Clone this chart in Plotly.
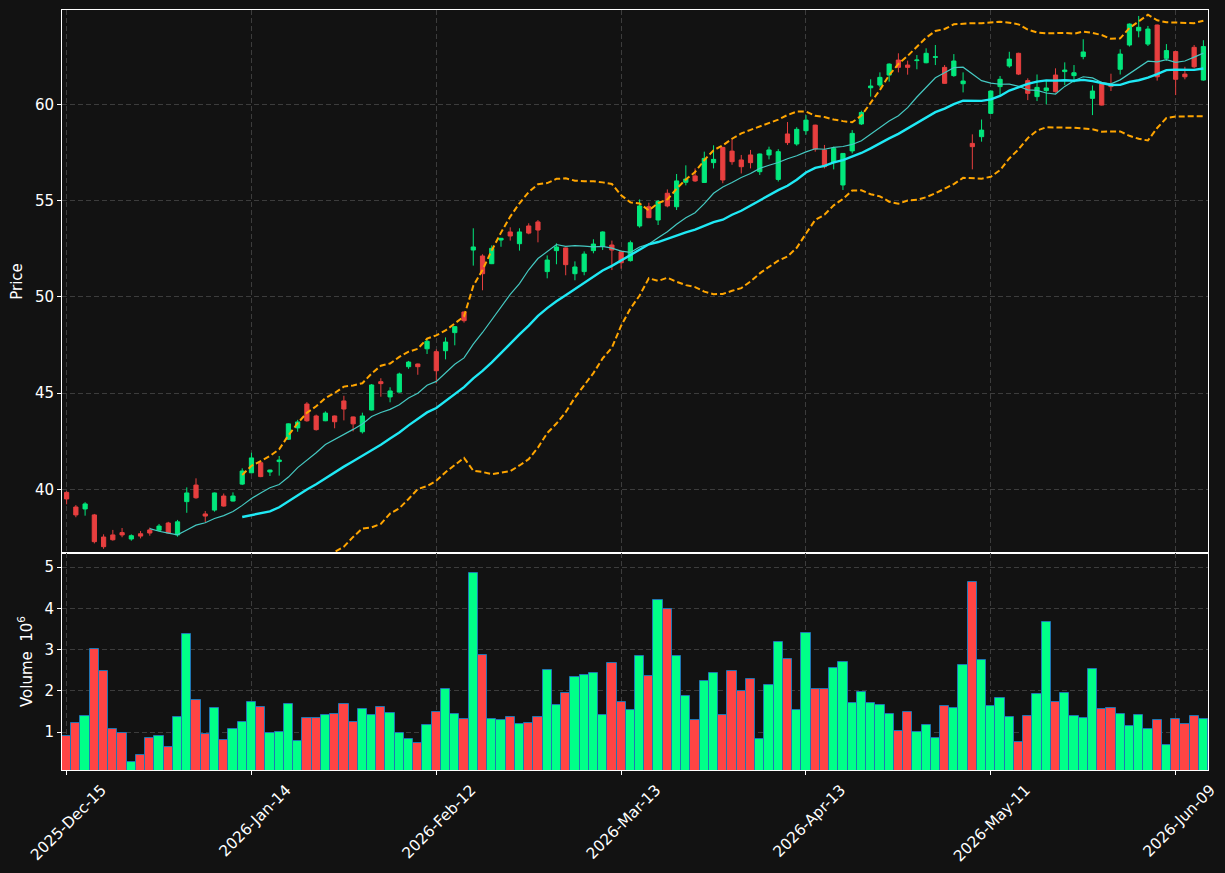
import plotly.graph_objects as go
import pandas as pd
from plotly.subplots import make_subplots

# ---- data (prices in $, volume in millions) ----
opens = [39.84, 39.08, 38.98, 38.67, 37.52, 37.63, 37.75, 37.42, 37.69, 37.89,
         37.87, 38.25, 37.63, 39.36, 40.22, 38.72, 38.92, 39.65, 39.39, 40.27,
         40.86, 41.38, 40.90, 41.44, 42.60, 43.19, 44.43, 43.81, 43.56, 43.81,
         44.59, 43.76, 42.99, 44.12, 45.59, 44.80, 45.05, 46.37, 46.51, 47.30,
         47.15, 47.20, 48.14, 49.21, 52.43, 52.12, 51.72, 52.95, 53.37, 52.76,
         53.68, 53.89, 51.31, 52.40, 52.54, 51.20, 51.31, 52.40, 52.64, 52.69,
         52.34, 51.88, 53.68, 54.68, 53.99, 55.38, 54.68, 55.95, 56.28, 55.94,
         56.97, 57.76, 57.57, 57.11, 57.37, 56.50, 57.37, 56.10, 58.46, 57.94,
         58.63, 58.92, 57.63, 56.97, 55.81, 57.58, 58.98, 60.86, 61.00, 61.52,
         62.30, 62.04, 62.27, 62.16, 62.44, 61.92, 61.49, 61.07, 57.97, 58.32,
         59.53, 60.92, 61.99, 62.65, 61.23, 60.40, 60.71, 61.52, 61.70, 61.49,
         62.48, 60.31, 61.05, 61.05, 61.82, 63.08, 63.82, 63.13, 64.12, 62.39,
         62.74, 61.57, 62.96, 61.26]
highs = [39.90, 39.18, 39.33, 38.72, 37.66, 37.89, 37.99, 37.66, 37.83, 38.01,
         38.20, 38.31, 38.41, 40.10, 40.57, 38.87, 39.83, 39.78, 39.84, 41.09,
         41.90, 41.42, 41.02, 41.73, 43.42, 43.61, 44.53, 43.88, 44.05, 43.83,
         44.86, 43.78, 43.98, 45.47, 45.77, 45.30, 46.06, 46.67, 46.53, 47.86,
         47.27, 47.89, 48.47, 49.23, 53.56, 52.21, 52.67, 53.06, 53.61, 53.56,
         53.82, 53.99, 52.15, 52.78, 52.56, 51.84, 52.36, 52.99, 53.40, 52.92,
         52.36, 52.92, 55.06, 54.89, 55.03, 55.58, 56.38, 56.83, 56.67, 57.54,
         57.87, 57.80, 58.18, 57.37, 57.63, 57.44, 57.80, 57.67, 59.08, 58.81,
         59.44, 58.94, 57.89, 57.80, 57.47, 58.66, 59.67, 61.30, 61.66, 62.13,
         62.65, 62.27, 62.56, 62.91, 63.08, 62.04, 62.61, 61.66, 58.44, 59.21,
         60.71, 61.47, 62.73, 62.68, 61.35, 61.55, 61.23, 61.87, 62.18, 62.04,
         63.38, 60.98, 61.17, 61.59, 62.86, 64.20, 64.59, 64.07, 64.14, 63.13,
         62.76, 61.95, 63.08, 63.33]
lows = [39.22, 38.55, 38.63, 37.19, 36.91, 37.33, 37.51, 37.33, 37.45, 37.59,
        37.83, 37.69, 37.54, 38.78, 39.51, 38.30, 38.84, 39.10, 39.37, 40.22,
        40.83, 40.63, 40.69, 40.71, 42.56, 42.99, 43.51, 43.05, 43.54, 43.17,
        43.58, 43.01, 42.90, 44.10, 44.81, 44.52, 45.02, 46.26, 45.95, 47.03,
        45.50, 46.75, 47.48, 48.66, 51.62, 50.34, 51.70, 52.60, 52.92, 52.40,
        53.25, 52.83, 50.96, 51.69, 51.12, 50.86, 51.12, 52.26, 52.43, 51.39,
        51.46, 51.83, 53.59, 54.09, 53.73, 54.65, 54.51, 55.79, 55.97, 55.92,
        56.67, 55.90, 56.86, 56.41, 56.67, 56.33, 57.14, 55.99, 57.89, 57.85,
        58.42, 57.54, 56.67, 56.62, 55.55, 57.45, 58.93, 60.40, 60.88, 61.18,
        61.66, 61.54, 61.82, 62.13, 62.04, 61.07, 61.43, 60.62, 56.62, 58.06,
        59.50, 60.49, 61.90, 61.52, 60.22, 60.17, 60.00, 60.61, 61.00, 61.13,
        62.34, 59.44, 59.94, 60.69, 61.55, 63.00, 63.48, 63.03, 61.23, 62.27,
        60.48, 61.30, 61.87, 61.23]
closes = [39.50, 38.67, 39.24, 37.28, 37.02, 37.38, 37.63, 37.59, 37.57, 37.73,
          38.09, 37.73, 38.31, 39.81, 39.56, 38.61, 39.81, 39.13, 39.65, 40.95,
          41.63, 40.66, 41.00, 41.52, 43.40, 43.50, 43.56, 43.10, 43.96, 43.51,
          44.17, 43.40, 43.81, 45.42, 45.49, 45.11, 45.99, 46.61, 46.37, 47.69,
          46.16, 47.65, 48.45, 48.76, 52.59, 51.20, 52.52, 53.04, 53.16, 53.37,
          53.31, 53.47, 51.91, 52.59, 51.67, 51.55, 52.22, 52.74, 53.37, 52.43,
          51.77, 52.81, 54.72, 54.11, 54.96, 54.72, 56.02, 56.12, 56.02, 57.19,
          57.14, 56.07, 57.02, 56.76, 56.97, 57.42, 57.63, 57.54, 58.01, 58.70,
          59.18, 57.68, 56.76, 57.71, 57.45, 58.49, 59.58, 60.95, 61.40, 62.09,
          61.92, 61.92, 62.30, 62.65, 62.47, 61.09, 62.25, 61.21, 57.80, 58.66,
          60.69, 61.30, 62.35, 61.57, 60.57, 60.88, 60.85, 60.66, 61.78, 61.64,
          62.72, 60.69, 59.96, 60.92, 62.61, 64.17, 64.00, 63.91, 61.43, 62.79,
          61.30, 61.43, 61.95, 63.00]
volumes = [0.91, 1.22, 1.39, 3.01, 2.48, 1.07, 0.98, 0.27, 0.45, 0.86,
           0.90, 0.64, 1.36, 3.37, 1.78, 0.95, 1.58, 0.81, 1.08, 1.24,
           1.73, 1.61, 0.98, 1.00, 1.68, 0.78, 1.34, 1.34, 1.41, 1.44,
           1.68, 1.24, 1.56, 1.41, 1.61, 1.46, 0.98, 0.83, 0.73, 1.17,
           1.49, 2.04, 1.45, 1.31, 4.85, 2.87, 1.31, 1.29, 1.36, 1.19,
           1.22, 1.36, 2.50, 1.65, 1.94, 2.33, 2.38, 2.43, 1.41, 2.67,
           1.73, 1.53, 2.84, 2.36, 4.20, 3.98, 2.84, 1.87, 1.29, 2.24,
           2.43, 1.41, 2.48, 1.99, 2.28, 0.83, 2.14, 3.18, 2.77, 1.53,
           3.40, 2.04, 2.04, 2.55, 2.70, 1.70, 1.97, 1.70, 1.65, 1.45,
           1.02, 1.49, 1.00, 1.17, 0.85, 1.63, 1.58, 2.62, 4.64, 2.74,
           1.63, 1.82, 1.36, 0.76, 1.39, 1.92, 3.67, 1.73, 1.94, 1.39,
           1.34, 2.53, 1.56, 1.58, 1.45, 1.14, 1.41, 1.07, 1.29, 0.68,
           1.31, 1.19, 1.39, 1.31]
tick_index = [0, 20, 40, 60, 80, 100, 120]
tick_labels = ["2025-Dec-15", "2026-Jan-14", "2026-Feb-12", "2026-Mar-13",
               "2026-Apr-13", "2026-May-11", "2026-Jun-09"]

# ---- derived indicators (10/20 moving averages, 20-period Bollinger bands) ----
n = len(closes)
x = list(range(n))
cs = pd.Series(closes)
ma10 = cs.rolling(10).mean()
ma20 = cs.rolling(20).mean()
sd20 = cs.rolling(20).std()
upper = ma20 + 2 * sd20
lower = ma20 - 2 * sd20

BG = "#121212"
GRID = "#3c3c3c"
UP_C, DN_C = "#02e77c", "#e73f3f"
UP_V, DN_V = "#00ff88", "#ff4444"
FONT = "DejaVu Sans"

fig = make_subplots(rows=2, cols=1, shared_xaxes=True, vertical_spacing=0,
                    row_heights=[0.7145, 0.2855])

fig.add_trace(go.Candlestick(
    x=x, open=opens, high=highs, low=lows, close=closes,
    increasing=dict(line=dict(color=UP_C, width=1), fillcolor=UP_C),
    decreasing=dict(line=dict(color=DN_C, width=1), fillcolor=DN_C),
    whiskerwidth=0, showlegend=False), row=1, col=1)

fig.add_trace(go.Scatter(x=x, y=ma10, mode="lines",
                         line=dict(color="#45c9c2", width=1.2),
                         showlegend=False), row=1, col=1)
fig.add_trace(go.Scatter(x=x, y=ma20, mode="lines",
                         line=dict(color="#1fe9f5", width=2.4),
                         showlegend=False), row=1, col=1)
fig.add_trace(go.Scatter(x=x, y=upper, mode="lines",
                         line=dict(color="#ffa500", width=2, dash="6px,3px"),
                         showlegend=False), row=1, col=1)
fig.add_trace(go.Scatter(x=x, y=lower, mode="lines",
                         line=dict(color="#ffa500", width=2, dash="6px,3px"),
                         showlegend=False), row=1, col=1)

vol_colors = [UP_V if c >= o else DN_V for o, c in zip(opens, closes)]
fig.add_trace(go.Bar(x=x, y=volumes, width=1.0,
                     marker=dict(color=vol_colors,
                                 line=dict(color="#1f77b4", width=1)),
                     showlegend=False), row=2, col=1)

axis_common = dict(showline=True, linecolor="white", linewidth=1, mirror=True,
                   showgrid=True, gridcolor=GRID, griddash="5px,3px",
                   gridwidth=1, zeroline=False, automargin=False,
                   tickfont=dict(color="white", size=15, family=FONT),
                   ticks="outside", tickcolor="white", ticklen=4)

fig.update_xaxes(**axis_common, range=[-0.5, n - 0.5], tickmode="array",
                 tickvals=tick_index, ticktext=tick_labels,
                 ticklabeloverflow="allow")
fig.update_xaxes(showticklabels=False, ticks="", row=1, col=1)
fig.update_xaxes(tickangle=-45, ticklabelshift=35,
                 tickfont=dict(color="white", size=15.3, family=FONT),
                 row=2, col=1)
fig.update_layout(xaxis_rangeslider_visible=False)

fig.update_yaxes(**axis_common)
fig.update_yaxes(range=[36.69, 64.90], tickvals=[40, 45, 50, 55, 60],
                 title=dict(text="Price", standoff=8,
                            font=dict(color="white", size=15, family=FONT)),
                 row=1, col=1)
fig.update_yaxes(range=[0.081, 5.34], tickvals=[1, 2, 3, 4, 5],
                 title=dict(text="Volume  10<sup>6</sup>", standoff=8,
                            font=dict(color="white", size=15, family=FONT)),
                 row=2, col=1)

fig.update_layout(
    width=1225, height=873,
    margin=dict(l=62, r=17, t=10, b=103),
    paper_bgcolor=BG, plot_bgcolor=BG,
    font=dict(family=FONT, color="white", size=15),
    bargap=0, boxgap=0.35,
    showlegend=False,
)

fig.write_html("out.html")
